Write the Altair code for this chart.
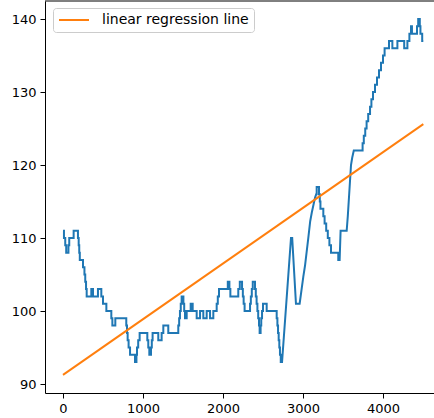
import altair as alt
import pandas as pd

# Series vertices as (sample index, value); integer levels change in steps,
# fast swings are given by their turning points.
path_early = [
    (0, 111), (12, 111), (12, 110), (28, 110), (28, 109), (40, 109), (40, 108),
    (68, 108), (68, 109), (78, 109), (78, 110), (133, 110), (133, 111),
    (187, 111), (187, 110), (196, 110), (196, 109), (203, 109), (203, 108),
    (210, 108), (210, 107), (250, 107), (250, 106), (268, 106), (268, 105),
    (278, 105), (278, 104), (288, 104), (288, 103), (296, 103), (296, 102),
    (354, 102), (354, 103), (375, 103), (375, 102), (437, 102), (437, 103),
    (479, 103), (479, 102), (500, 102), (500, 101), (542, 101), (542, 100),
    (604, 100), (604, 99), (617, 99), (617, 98), (654, 98), (654, 99),
    (791, 99), (791, 98), (800, 98), (800, 97), (808, 97), (808, 96),
    (820, 96), (820, 95), (838, 95), (838, 94), (900, 94), (900, 93),
    (918, 93), (918, 94), (925, 94), (925, 95), (940, 95), (940, 96),
    (958, 96), (958, 97),
]
path_mid = [
    (1054, 97), (1054, 96), (1066, 96), (1066, 95), (1079, 95), (1079, 94),
    (1100, 94), (1100, 95), (1110, 95), (1110, 96), (1120, 96), (1120, 97),
    (1191, 97), (1191, 96), (1233, 96), (1233, 97), (1254, 97), (1254, 98),
    (1316, 98), (1316, 97), (1441, 97), (1441, 98), (1452, 98), (1452, 99),
    (1462, 99), (1462, 100), (1472, 100), (1472, 101), (1483, 101), (1483, 102),
    (1505, 102), (1505, 101), (1515, 101), (1515, 100), (1525, 100), (1525, 99),
    (1546, 99), (1546, 100), (1596, 100), (1596, 101), (1621, 101), (1621, 100),
    (1671, 100), (1671, 99), (1713, 99), (1713, 100), (1754, 100), (1754, 99),
    (1796, 99), (1796, 100), (1838, 100), (1838, 99), (1879, 99), (1879, 100),
    (1921, 100), (1921, 101), (1935, 101), (1935, 102), (1950, 102), (1950, 103),
]
path_late = [
    (2060, 103), (2060, 104), (2080, 104), (2080, 103), (2092, 103), (2092, 102),
    (2191, 102), (2191, 103), (2210, 103), (2210, 104), (2238, 104), (2238, 103),
    (2248, 103), (2248, 102), (2258, 102), (2258, 101), (2270, 101), (2270, 100),
    (2338, 100), (2338, 101), (2348, 101), (2348, 102), (2360, 102), (2360, 103),
    (2372, 103), (2372, 104), (2400, 104), (2400, 103), (2410, 103), (2410, 102),
    (2420, 102), (2420, 101), (2430, 101), (2430, 100), (2440, 100), (2440, 99),
    (2450, 99), (2450, 98), (2458, 98), (2458, 97), (2470, 97), (2470, 98),
    (2478, 98), (2478, 99), (2488, 99), (2488, 100), (2500, 100), (2500, 101),
    (2546, 101), (2546, 100), (2671, 100), (2671, 99), (2680, 99), (2680, 98),
    (2688, 98), (2688, 97), (2696, 97), (2696, 96), (2704, 96), (2704, 95),
    (2712, 95), (2712, 94), (2722, 94), (2722, 93), (2738, 93), (2850, 110),
    (2865, 110), (2912, 101), (2958, 101),
]
path_end = [
    (3004, 104.7), (3025, 106.2), (3066, 110), (3090, 112.3), (3110, 113.5),
    (3150, 115.5), (3165, 116), (3171, 116), (3171, 117), (3200, 117),
    (3200, 116), (3210, 116), (3210, 115), (3218, 115), (3218, 114),
    (3254, 114), (3254, 113), (3270, 113), (3270, 112), (3290, 112),
    (3290, 111), (3310, 111), (3310, 110), (3330, 110), (3330, 109),
    (3350, 109), (3350, 108), (3441, 108), (3441, 107), (3458, 107),
    (3470, 111), (3546, 111), (3560, 113), (3600, 120), (3615, 121),
    (3635, 122), (3745, 122), (3745, 123), (3760, 123), (3760, 124),
    (3778, 124), (3778, 125), (3795, 125), (3795, 126), (3815, 126),
    (3815, 127), (3838, 127), (3838, 128), (3855, 128), (3855, 129),
    (3875, 129), (3875, 130), (3900, 130), (3900, 131), (3925, 131),
    (3925, 132), (3950, 132), (3950, 133), (3975, 133), (3975, 134),
    (4000, 134), (4000, 135), (4020, 135), (4020, 136), (4075, 136),
    (4075, 137), (4117, 137), (4117, 136), (4180, 136), (4180, 137),
    (4265, 137), (4265, 136), (4305, 136), (4305, 137), (4330, 137),
    (4330, 138), (4350, 138), (4350, 139), (4362, 139), (4362, 138),
    (4425, 138), (4425, 139), (4440, 139), (4440, 140), (4460, 140),
    (4460, 139), (4468, 139), (4468, 138), (4490, 138), (4490, 137),
    (4504, 137),
]

# Fitted regression line, evaluated at the first and last sample
reg_x = [0, 4504]
reg_y = [91.25, 125.6]
reg_label = "linear regression line"

x_ticks = [0, 1000, 2000, 3000, 4000]
y_ticks = [90, 100, 110, 120, 130, 140]

BLUE = "#1f77b4"
ORANGE = "#ff7f0e"
FONT = "DejaVu Sans"

vertices = path_early + path_mid + path_late + path_end
series = pd.DataFrame(vertices, columns=["x", "y"])
series["seq"] = range(len(series))

regression = pd.DataFrame({"x": reg_x, "y": reg_y, "label": [reg_label] * len(reg_x)})

x_scale = alt.Scale(domain=[-225, 4637.5], nice=False, zero=False)
y_scale = alt.Scale(domain=[88.77, 142.47], nice=False, zero=False)

x_axis = alt.Axis(values=x_ticks, title=None, grid=False, format="d")
y_axis = alt.Axis(values=y_ticks, title=None, grid=False, format="d")

walk = alt.Chart(series).mark_line(color=BLUE, strokeWidth=2, strokeJoin="miter", clip=True).encode(
    x=alt.X("x:Q", scale=x_scale, axis=x_axis),
    y=alt.Y("y:Q", scale=y_scale, axis=y_axis),
    order="seq:Q",
)

fit = alt.Chart(regression).mark_line(strokeWidth=2, clip=True).encode(
    x=alt.X("x:Q", scale=x_scale),
    y=alt.Y("y:Q", scale=y_scale),
    color=alt.Color(
        "label:N",
        scale=alt.Scale(domain=[reg_label], range=[ORANGE]),
        legend=alt.Legend(
            title=None,
            orient="none",
            legendX=8,
            legendY=7,
            symbolType="M-1.2,0H4.8",
            symbolSize=100,
            symbolStrokeWidth=2,
            symbolStrokeColor=ORANGE,
            symbolFillColor="transparent",
            labelFont=FONT,
            labelFontSize=14,
            labelColor="black",
            labelOffset=30,
            padding=5,
            strokeColor="#cccccc",
            fillColor="white",
            cornerRadius=3,
        ),
    ),
)

# top frame edge of the plot area
top_edge = alt.Chart().mark_rule(color="black", strokeWidth=1).encode(
    x=alt.value(0), x2=alt.value(389), y=alt.value(0)
)

chart = (
    alt.layer(walk, fit, top_edge)
    .properties(
        width=389,
        height=392,
        autosize=alt.AutoSizeParams(type="none"),
        padding={"left": 45, "top": 1, "right": 0, "bottom": 25},
    )
    .configure_view(stroke=None)
    .configure_axis(
        domainColor="black",
        tickColor="black",
        labelColor="black",
        labelFont=FONT,
        labelFontSize=13,
        tickSize=5,
        labelPadding=4,
        domainWidth=1,
        tickWidth=1,
    )
)

chart.save("out.html", embed_options={"renderer": "svg", "actions": False})
